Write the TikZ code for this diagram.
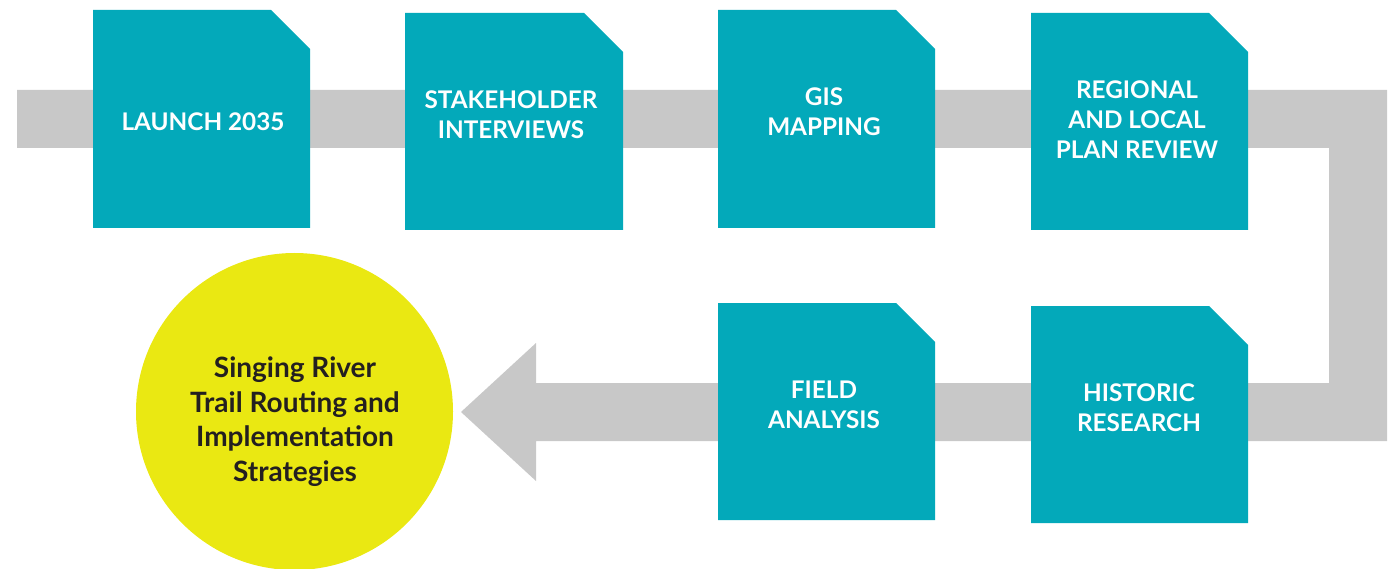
\documentclass[tikz,border=0pt]{standalone}
\usepackage{fontspec}
\setmainfont{Lato}
\definecolor{teal}{HTML}{03A9BA}
\definecolor{track}{HTML}{C8C8C8}
\definecolor{sun}{HTML}{EAE812}
\definecolor{ink}{HTML}{231F20}
\newcommand\cutbox[4]{\fill[teal] (#1,#2) -- ({#3-39},#2) -- (#3,{#2+39}) -- (#3,#4) -- (#1,#4) -- cycle;}
\begin{document}
\begin{tikzpicture}[x=1pt,y=-1pt,
  steplabel/.style={text=white,font=\bfseries\fontsize{24.3}{30}\selectfont,align=center,inner sep=0pt},
  goaldisc/.style={circle,fill=sun,minimum size=317pt,inner sep=0pt},
  goallabel/.style={text=ink,font=\bfseries\fontsize{28}{34.5}\selectfont,align=center,inner sep=0pt}]
\useasboundingbox (0,0) rectangle (1397,569);
% track
\fill[track] (17,90) -- (1387,90) -- (1387,441) -- (536,441) -- (536,481) -- (461,412) -- (536,343) -- (536,383) -- (1329,383) -- (1329,148) -- (17,148) -- cycle;
% boxes
\cutbox{93}{10}{310}{228}
\cutbox{405}{13}{623}{230}
\cutbox{718}{10}{935}{228}
\cutbox{1031}{13}{1248}{230}
\cutbox{1031}{306}{1248}{523}
\cutbox{718}{303}{935}{520}
\node[steplabel] (launch) at (203,122) {LAUNCH 2035};
\node[steplabel] (stake) at (511,115) {STAKEHOLDER\\INTERVIEWS};
\node[steplabel] (gis) at (824,112) {GIS\\MAPPING};
\node[steplabel] (plan) at (1137,120) {REGIONAL\\AND LOCAL\\PLAN REVIEW};
\node[steplabel] (hist) at (1139,408) {HISTORIC\\RESEARCH};
\node[steplabel] (field) at (824,405) {FIELD\\ANALYSIS};
\node[goaldisc] (goal) at (294.5,411.5) {};
\node[goallabel] (goaltext) at (295,421.5) {Singing River\\Trail Routing and\\Implementation\\Strategies};
\end{tikzpicture}
\end{document}
